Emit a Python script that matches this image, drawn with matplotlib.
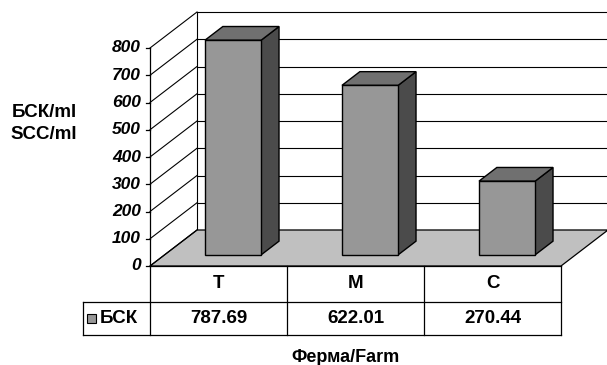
import matplotlib
matplotlib.use("Agg")
import matplotlib.pyplot as plt
from matplotlib.patches import Polygon

farms = ["T", "M", "C"]
scc = [787.69, 622.01, 270.44]
series_name = "БСК"
y_ticks = [0, 100, 200, 300, 400, 500, 600, 700, 800]
y_label_lines = ["БСК/ml", "SCC/ml"]
x_label = "Ферма/Farm"

# pixel geometry of the front plane: categories -0.5..2.5, values 0..800
PX_CAT = 137.0
PX_VAL = 0.2725
DEPTH_X = 47.0 / PX_CAT   # oblique offset of the full floor depth, in category units
DEPTH_Y = 36.0 / PX_VAL   # same, in value units
BAR_W = 0.41
BAR_D0, BAR_D1 = 0.31, 0.69

FRONT = "#979797"
TOP = "#707070"
SIDE = "#4b4b4b"
FLOOR = "#c0c0c0"

plt.rcParams["font.family"] = ["Liberation Sans", "DejaVu Sans"]

fig = plt.figure(figsize=(6.07, 3.65), dpi=100)
ax = fig.add_axes([0, 0, 1, 1])
ax.set_xlim(-0.5 - 150 / PX_CAT, -0.5 + (607 - 150) / PX_CAT)
ax.set_ylim(-(365 - 266) / PX_VAL, 800 + 48 / PX_VAL)
ax.axis("off")

x0, x1 = -0.5, len(farms) - 0.5
vmax = y_ticks[-1]


def shift(x, y, d):
    return (x + d * DEPTH_X, y + d * DEPTH_Y)


# floor
floor = [shift(x0, 0, 0), shift(x1, 0, 0), shift(x1, 0, 1), shift(x0, 0, 1)]
ax.add_patch(Polygon(floor, closed=True, fc=FLOOR, ec="black", lw=0.9, zorder=1))

# back wall gridlines and left wall diagonals
right_edge = ax.get_xlim()[1] + 0.1
for v in y_ticks:
    bx, by = shift(x0, v, 1)
    ax.plot([bx, right_edge], [by, by], color="black", lw=0.8, zorder=0)
    ax.plot([x0, bx], [v, by], color="black", lw=0.8, zorder=2)
bx, btop = shift(x0, vmax, 1)
_, bbot = shift(x0, 0, 1)
ax.plot([bx, bx], [bbot, btop], color="black", lw=0.8, zorder=0)

# front value axis with ticks and labels
ax.plot([x0, x0], [0, vmax], color="black", lw=0.9, zorder=3)
for v in y_ticks:
    ax.plot([x0 - 4 / PX_CAT, x0], [v, v], color="black", lw=0.9, zorder=3)
    ax.text(x0 - 9 / PX_CAT, v, str(v), ha="right", va="center",
            fontsize=12.5, fontweight="bold", fontstyle="italic")

# 3d bars
for i, val in enumerate(scc):
    l, r = i - BAR_W / 2, i + BAR_W / 2
    fl = shift(l, 0, BAR_D0)
    fr = shift(r, 0, BAR_D0)
    tl = shift(l, val, BAR_D0)
    tr = shift(r, val, BAR_D0)
    br_b = shift(r, 0, BAR_D1)
    br_t = shift(r, val, BAR_D1)
    bl_t = shift(l, val, BAR_D1)
    ax.add_patch(Polygon([fr, br_b, br_t, tr], fc=SIDE, ec="black", lw=1.0, zorder=4))
    ax.add_patch(Polygon([tl, tr, br_t, bl_t], fc=TOP, ec="black", lw=1.0, zorder=4))
    ax.add_patch(Polygon([fl, fr, tr, tl], fc=FRONT, ec="black", lw=1.0, zorder=5))

# data table under the plot
row1 = -(302 - 266) / PX_VAL
row2 = -(335 - 266) / PX_VAL
leg_left = x0 - (150 - 83) / PX_CAT
ax.plot([x0, x1], [0, 0], color="black", lw=0.9, zorder=6)
ax.plot([leg_left, x1], [row1, row1], color="black", lw=0.9)
ax.plot([leg_left, x1], [row2, row2], color="black", lw=0.9)
ax.plot([leg_left, leg_left], [row1, row2], color="black", lw=0.9)
for k in range(len(farms) + 1):
    xx = x0 + k
    ax.plot([xx, xx], [0, row2], color="black", lw=0.9)
for i, (farm, val) in enumerate(zip(farms, scc)):
    ax.text(i, row1 / 2, farm, ha="center", va="center", fontsize=13.5, fontweight="bold")
    ax.text(i, (row1 + row2) / 2, f"{val:.2f}", ha="center", va="center",
            fontsize=13.5, fontweight="bold")

# legend key in the table
key_x = leg_left + 4 / PX_CAT
key_y = (row1 + row2) / 2
ax.add_patch(Polygon([(key_x, key_y - 4 / PX_VAL), (key_x + 9 / PX_CAT, key_y - 4 / PX_VAL),
                      (key_x + 9 / PX_CAT, key_y + 5 / PX_VAL), (key_x, key_y + 5 / PX_VAL)],
                     fc=FRONT, ec="black", lw=0.8))
ax.text(key_x + 13 / PX_CAT, key_y, series_name, ha="left", va="center",
        fontsize=13.5, fontweight="bold")

# axis titles
fig.text(44 / 607, 1 - 112 / 365, y_label_lines[0], ha="center", va="center",
         fontsize=13.5, fontweight="bold")
fig.text(44 / 607, 1 - 135 / 365, y_label_lines[1], ha="center", va="center",
         fontsize=13.5, fontweight="bold")
fig.text(345 / 607, 1 - 357 / 365, x_label, ha="center", va="center",
         fontsize=13, fontweight="bold")

fig.savefig("out.png", dpi=100)
